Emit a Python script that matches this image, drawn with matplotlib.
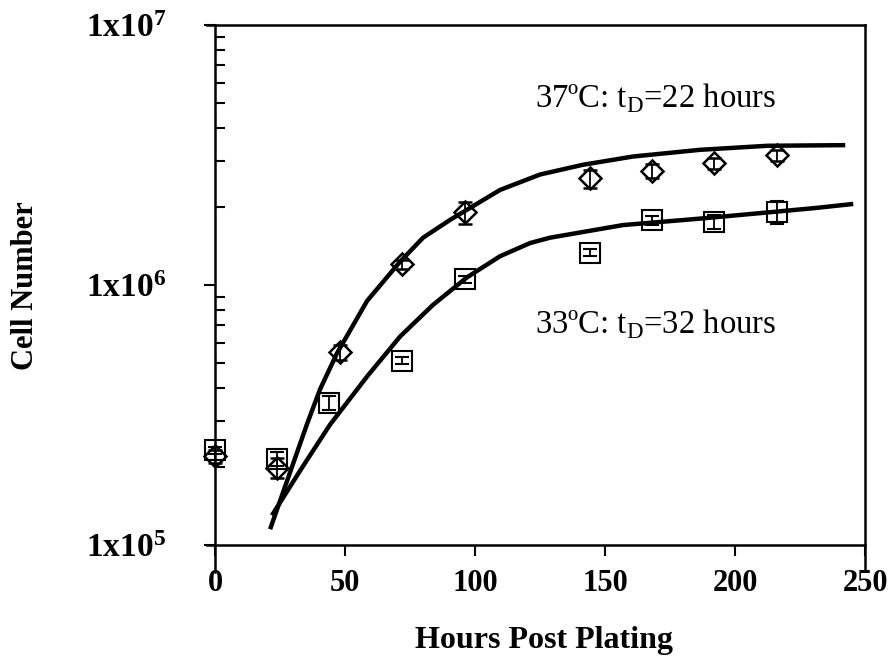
import matplotlib
matplotlib.use('Agg')
import matplotlib.pyplot as plt
from matplotlib.ticker import LogLocator, FixedLocator, NullFormatter

# measured points (hours, cell number)
hours_37 = [0, 24, 48, 72, 96, 144, 168, 192, 216]
cells_37 = [2.19e5, 1.98e5, 5.51e5, 1.20e6, 1.90e6, 2.57e6, 2.75e6, 2.94e6, 3.15e6]
err_37 = [0.06, 0.09, 0.07, 0.04, 0.10, 0.08, 0.06, 0.05, 0.05]

hours_33 = [0, 24, 44, 72, 96, 144, 168, 192, 216]
cells_33 = [2.31e5, 2.15e5, 3.52e5, 5.12e5, 1.05e6, 1.33e6, 1.77e6, 1.75e6, 1.91e6]
err_33 = [0.03, 0.06, 0.06, 0.03, 0.03, 0.03, 0.04, 0.06, 0.10]

# fitted growth curves
fit_x_37 = [21.2, 35.4, 40.4, 46.9, 58.5, 71.2, 80.0, 90.4, 109.6, 125.0, 141.5, 160.8, 186.5, 212.3, 242.3]
fit_y_37 = [1.15e5, 2.92e5, 3.97e5, 5.46e5, 8.69e5, 1.23e6, 1.52e6, 1.78e6, 2.32e6, 2.66e6, 2.90e6,
            3.12e6, 3.31e6, 3.43e6, 3.45e6]
fit_x_33 = [21.9, 33.0, 44.2, 58.5, 71.2, 83.8, 96.9, 109.6, 121.2, 128.8, 156.9, 186.5, 212.3, 231.5, 245.4]
fit_y_33 = [1.30e5, 1.95e5, 2.90e5, 4.45e5, 6.34e5, 8.38e5, 1.07e6, 1.29e6, 1.45e6, 1.52e6, 1.70e6,
            1.80e6, 1.90e6, 1.98e6, 2.05e6]

x_ticks = [0, 50, 100, 150, 200, 250]
y_ticks = [1e5, 1e6, 1e7]
y_labels = [r'$\mathbf{1x10^5}$', r'$\mathbf{1x10^6}$', r'$\mathbf{1x10^7}$']

plt.rcParams['font.family'] = ['Liberation Serif', 'DejaVu Serif']
plt.rcParams['mathtext.fontset'] = 'custom'
plt.rcParams['mathtext.rm'] = 'Liberation Serif'
plt.rcParams['mathtext.bf'] = 'Liberation Serif:bold'

fig = plt.figure(figsize=(8.92, 6.57), dpi=100)
ax = fig.add_axes([0.241, 0.1705, 0.729, 0.7915])

ax.plot(fit_x_37, fit_y_37, color='black', lw=3.2, solid_capstyle='butt', zorder=3)
ax.plot(fit_x_33, fit_y_33, color='black', lw=3.2, solid_capstyle='butt', zorder=3)

ax.errorbar(hours_37, cells_37, yerr=[c * e for c, e in zip(cells_37, err_37)], fmt='D', ms=11.5,
            mfc='none', mec='black', mew=1.8, ecolor='black', elinewidth=1.3, capsize=5, capthick=1.3,
            clip_on=False, zorder=4)
ax.errorbar(hours_33, cells_33, yerr=[c * e for c, e in zip(cells_33, err_33)], fmt='s', ms=15,
            mfc='none', mec='black', mew=1.5, ecolor='black', elinewidth=1.3, capsize=5, capthick=1.3,
            clip_on=False, zorder=4)

ax.set_yscale('log')
ax.set_xlim(0, 250)
ax.set_ylim(1e5, 1e7)

ax.xaxis.set_major_locator(FixedLocator(x_ticks))
ax.set_xticklabels([str(t) for t in x_ticks], fontsize=22, fontweight='bold')
ax.yaxis.set_major_locator(FixedLocator(y_ticks))
ax.set_yticklabels(y_labels, fontsize=24)
ax.yaxis.set_minor_locator(LogLocator(base=10, subs=[2, 3, 4, 5, 6, 7, 8, 9]))
ax.yaxis.set_minor_formatter(NullFormatter())

ax.tick_params(axis='x', which='major', direction='out', length=8, width=1.5, pad=9)
ax.tick_params(axis='y', which='major', direction='out', length=8, width=1.5, pad=27)
ax.tick_params(axis='y', which='minor', direction='in', length=7, width=1.5)
ax.tick_params(top=False, right=False)

for side in ['left', 'bottom', 'top', 'right']:
    ax.spines[side].set_visible(False)

# axis lines extending past the corners as in the original
ax.plot([0, 0], [-0.052, 1], transform=ax.transAxes, color='black', lw=1.8, clip_on=False)
ax.plot([1, 1], [-0.048, 1], transform=ax.transAxes, color='black', lw=1.8, clip_on=False)
ax.plot([-0.012, 1], [0, 0], transform=ax.transAxes, color='black', lw=1.8, clip_on=False)
ax.plot([-0.012, 1], [1, 1], transform=ax.transAxes, color='black', lw=1.8, clip_on=False)

fig.text(0.61, 0.025, 'Hours Post Plating', fontsize=23, fontweight='bold',
         ha='center', va='center')
fig.text(0.029, 0.565, 'Cell Number', fontsize=22, fontweight='bold', ha='center', va='center',
         rotation=90)

ax.text(0.492, 0.842, r'37ºC: t$_\mathregular{D}$=22 hours', transform=ax.transAxes,
        fontsize=23.5, va='baseline', ha='left')
ax.text(0.492, 0.408, r'33ºC: t$_\mathregular{D}$=32 hours', transform=ax.transAxes,
        fontsize=23.5, va='baseline', ha='left')

fig.savefig('out.png', dpi=100)
